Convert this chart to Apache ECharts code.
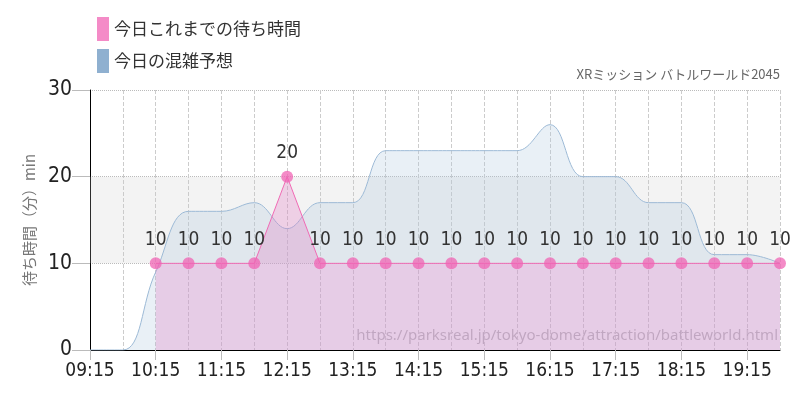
<!DOCTYPE html>
<html><head><meta charset="utf-8">
<script src="https://cdn.jsdelivr.net/npm/echarts@6/dist/echarts.min.js"></script>
<style>html,body{margin:0;padding:0;background:#fff}#c{width:800px;height:400px}</style>
</head><body><div id="c"></div>
<script>
const times = ['09:15','09:45','10:15','10:45','11:15','11:45','12:15','12:45','13:15','13:45','14:15','14:45','15:15','15:45','16:15','16:45','17:15','17:45','18:15','18:45','19:15','19:45'];
const actualWait = [null,null,10,10,10,10,20,10,10,10,10,10,10,10,10,10,10,10,10,10,10,10];
const forecast = [0,0,9,16,16,17,14,17,17,23,23,23,23,23,26,20,20,17,17,11,11,10];
const yTicks = [0,10,20,30];
const numFont = "'Liberation Sans Narrow','DejaVu Sans Condensed',sans-serif";
const chart = echarts.init(document.getElementById('c'));
chart.setOption({
  animation:false,
  grid:{left:90,right:20,top:90,bottom:50},
  legend:{orient:'vertical',left:92,top:12,itemGap:8,itemWidth:12,itemHeight:24,icon:'rect',
    textStyle:{fontSize:17,color:'#333',fontFamily:"'Noto Sans CJK JP',sans-serif"},
    data:['今日これまでの待ち時間','今日の混雑予想']},
  graphic:[
    {type:'text',right:20,top:68,style:{text:'XRミッション バトルワールド2045',fontSize:13,fill:'#666',fontFamily:"'Noto Sans CJK JP',sans-serif"}},
    {type:'text',right:22,top:328,style:{text:'https://parksreal.jp/tokyo-dome/attraction/battleworld.html',fontSize:15,fill:'rgba(120,120,120,0.55)',fontFamily:"'Noto Sans',sans-serif"}}
  ],
  xAxis:{type:'category',data:times,boundaryGap:false,
    axisLine:{lineStyle:{color:'#000'}},
    axisTick:{interval:1,length:10,lineStyle:{color:'#bbb'}},
    axisLabel:{interval:1,fontSize:19,color:'#222',fontFamily:numFont,margin:12},
    splitLine:{show:true,interval:0,lineStyle:{color:'#ccc',type:'dashed'}}},
  yAxis:{type:'value',min:yTicks[0],max:yTicks[3],interval:10,
    name:'待ち時間（分）min',nameLocation:'middle',nameGap:52,nameRotate:90,
    nameTextStyle:{fontSize:15,color:'#777',fontFamily:"'Noto Sans CJK JP',sans-serif"},
    axisLine:{show:true,lineStyle:{color:'#000'}},
    axisTick:{show:true,length:18,lineStyle:{color:'#bbb'}},
    axisLabel:{fontSize:21,color:'#222',fontFamily:numFont,margin:18},
    splitLine:{lineStyle:{color:'#bbb',type:'dotted'}}},
  series:[
    {name:'今日の混雑予想',type:'line',data:forecast,smooth:0.4,showSymbol:false,symbol:'none',
      itemStyle:{color:'#8fb0d0'},lineStyle:{color:'#9dbad6',width:1},
      areaStyle:{color:'rgba(175,200,222,0.4)'},z:2,
      markArea:{silent:true,itemStyle:{color:'rgba(200,200,200,0.22)'},data:[[{yAxis:10},{yAxis:20}]]}},
    {name:'今日これまでの待ち時間',type:'line',data:actualWait,symbol:'circle',symbolSize:12,
      itemStyle:{color:'rgba(240,100,180,0.75)'},lineStyle:{color:'#f06ab4',width:1},
      areaStyle:{color:'rgba(225,120,195,0.42)'},z:3,
      label:{show:true,position:'top',distance:8,fontSize:19,color:'#333',fontFamily:numFont}}
  ]
});
</script></body></html>
